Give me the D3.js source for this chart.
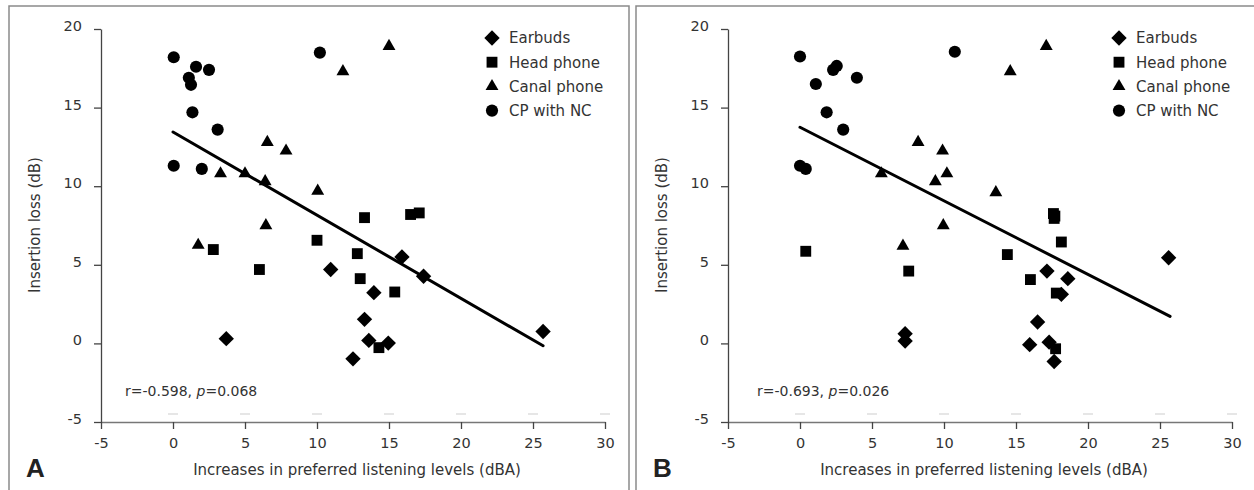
<!DOCTYPE html>
<html>
<head>
<meta charset="utf-8">
<script src="https://cdn.jsdelivr.net/npm/d3@7"></script>
<style>
  body { margin: 0; background: #fff; }
  svg { display: block; font-family: "DejaVu Sans", sans-serif; }
</style>
</head>
<body>
<svg id="chart"></svg>
<script>
// axis ticks and legend
const xTicks = [-5, 0, 5, 10, 15, 20, 25, 30];
const yTicks = [-5, 0, 5, 10, 15, 20];
const seriesNames = ['Earbuds', 'Head phone', 'Canal phone', 'CP with NC'];

// panel A: [increase in PLL (dBA), insertion loss (dB)]
const earbudsA = [[3.7, 0.3], [10.95, 4.7], [15.9, 5.5], [17.4, 4.27], [13.95, 3.23],
  [13.3, 1.53], [13.6, 0.19], [14.95, 0.02], [12.5, -0.98], [25.7, 0.76]];
const headphoneA = [[13.3, 8.0], [16.5, 8.2], [17.1, 8.3], [10.0, 6.56], [2.8, 5.97],
  [6.0, 4.7], [12.8, 5.71], [13.0, 4.12], [15.4, 3.27], [14.3, -0.27]];
const canalA = [[15.0, 18.9], [11.8, 17.3], [10.05, 9.7], [6.55, 12.8], [7.85, 12.25],
  [3.3, 10.8], [5.0, 10.8], [6.4, 10.3], [6.45, 7.5], [1.75, 6.25]];
const cpncA = [[0.05, 18.2], [1.1, 16.9], [1.25, 16.45], [1.6, 17.6], [2.5, 17.4],
  [1.35, 14.7], [3.1, 13.6], [0.05, 11.3], [2.0, 11.1], [10.2, 18.5]];
const fitA = [[0, 13.45], [25.7, -0.15]];
const statA = ['r=-0.598, ', 'p', '=0.068'];

// panel B
const earbudsB = [[7.3, 0.62], [7.3, 0.15], [25.6, 5.45], [17.15, 4.6], [18.6, 4.12],
  [18.15, 3.12], [16.5, 1.36], [15.95, -0.08], [17.3, 0.08], [17.65, -1.15]];
const headphoneB = [[0.4, 5.86], [7.55, 4.6], [17.6, 8.26], [17.65, 7.95], [17.7, 8.1],
  [18.15, 6.45], [14.4, 5.65], [16.0, 4.06], [17.8, 3.2], [17.75, -0.34]];
const canalB = [[17.1, 18.9], [14.6, 17.3], [9.9, 12.25], [10.2, 10.8], [9.4, 10.3],
  [13.6, 9.6], [9.95, 7.5], [8.2, 12.8], [5.65, 10.8], [7.15, 6.2]];
const cpncB = [[0.0, 18.25], [1.1, 16.5], [2.3, 17.4], [2.55, 17.65], [3.95, 16.9],
  [1.85, 14.7], [3.0, 13.6], [0.0, 11.3], [0.4, 11.1], [10.75, 18.55]];
const fitB = [[0, 13.75], [25.7, 1.72]];
const statB = ['r=-0.693, ', 'p', '=0.026'];

class ScatterPanel {
  constructor(_config, _series, _fit, _stat) {
    this.config = {
      parentElement: _config.parentElement,
      left: _config.left,
      top: _config.top || 6,
      containerWidth: _config.containerWidth || 620,
      containerHeight: _config.containerHeight || 490,
      letter: _config.letter,
      margin: { top: 23, bottom: 68, right: 24, left: 92 }
    }
    this.series = _series;
    this.fit = _fit;
    this.stat = _stat;
    this.initVis();
  }

  initVis() {
    let vis = this;
    vis.width = 504;
    vis.height = 393;

    vis.g = d3.select(vis.config.parentElement).append('g')
        .attr('transform', `translate(${vis.config.left},${vis.config.top})`);

    // frame (open at the bottom, cropped)
    vis.g.append('path')
        .attr('d', `M0,${vis.config.containerHeight} V0 H${vis.config.containerWidth} V${vis.config.containerHeight}`)
        .attr('fill', 'none')
        .attr('stroke', '#8a8a8a')
        .attr('stroke-width', 1.5);

    vis.chart = vis.g.append('g')
        .attr('transform', `translate(${vis.config.margin.left},${vis.config.margin.top})`);

    vis.xScale = d3.scaleLinear().domain([-5, 30]).range([0, vis.width]);
    vis.yScale = d3.scaleLinear().domain([-5, 20]).range([vis.height, 0]);

    // Y axis label
    vis.g.append('text')
       .attr('transform', `translate(31,${225 - vis.config.top}) rotate(-90)`)
       .attr('text-anchor', 'middle')
       .attr('font-size', '15px')
       .attr('fill', '#333')
       .text('Insertion loss (dB)');

    // X axis label
    vis.g.append('text')
       .attr('x', vis.config.margin.left + vis.width / 2 + 4)
       .attr('y', 475 - vis.config.top)
       .attr('text-anchor', 'middle')
       .attr('font-size', '15px')
       .attr('fill', '#333')
       .text('Increases in preferred listening levels (dBA)');

    // panel letter
    vis.g.append('text')
       .attr('x', 17)
       .attr('y', 477 - vis.config.top)
       .attr('font-family', 'Liberation Sans, Arial, sans-serif')
       .attr('font-weight', 'bold')
       .attr('font-size', '26px')
       .attr('fill', '#222')
       .text(vis.config.letter);

    vis.updateVis();
  }

  updateVis() {
    let vis = this;

    vis.xAxis = d3.axisBottom(vis.xScale)
        .tickValues(xTicks)
        .tickFormat(d => String(d))
        .tickSize(7)
        .tickSizeOuter(0)
        .tickPadding(4);

    vis.yAxis = d3.axisLeft(vis.yScale)
        .tickValues(yTicks)
        .tickFormat(d => String(d))
        .tickSize(7)
        .tickSizeOuter(0)
        .tickPadding(12);

    // faint remnants above the x axis
    vis.chart.selectAll('.ghost')
      .data(xTicks.filter(d => d > -5))
      .join('rect')
      .attr('class', 'ghost')
      .attr('x', d => vis.xScale(d) - 5)
      .attr('y', vis.height - 9)
      .attr('width', 10)
      .attr('height', 2)
      .attr('fill', '#e6e6e6');

    vis.xAxisG = vis.chart.append('g')
        .attr('class', 'axis x-axis')
        .attr('transform', `translate(0,${vis.height})`)
        .call(vis.xAxis);

    vis.yAxisG = vis.chart.append('g')
        .attr('class', 'axis y-axis')
        .call(vis.yAxis);

    vis.chart.selectAll('.axis path, .axis line')
        .attr('stroke', '#444')
        .attr('stroke-width', 1.3);
    vis.xAxisG.select('path').attr('stroke', '#777');
    vis.chart.selectAll('.axis text')
        .attr('font-family', '"DejaVu Sans", sans-serif')
        .attr('font-size', '14.5px')
        .attr('fill', '#333');
    vis.xAxisG.selectAll('text').attr('dy', '1em');
    vis.yAxisG.selectAll('text').attr('dy', '0.1em');

    vis.renderVis();
  }

  renderVis() {
    let vis = this;
    const symbols = [
      { type: d3.symbolSquare, size: 118, rotate: 45 },   // Earbuds (diamond)
      { type: d3.symbolSquare, size: 118, rotate: 0 },    // Head phone
      { type: d3.symbolTriangle, size: 72, rotate: 0 },   // Canal phone
      { type: d3.symbolCircle, size: 116, rotate: 0 }     // CP with NC
    ];

    // regression line
    vis.chart.append('line')
        .attr('x1', vis.xScale(vis.fit[0][0]))
        .attr('y1', vis.yScale(vis.fit[0][1]))
        .attr('x2', vis.xScale(vis.fit[1][0]))
        .attr('y2', vis.yScale(vis.fit[1][1]))
        .attr('stroke', '#000')
        .attr('stroke-width', 3)
        .attr('stroke-linecap', 'round');

    vis.series.forEach((pts, i) => {
      const s = symbols[i];
      vis.chart.selectAll('.pt' + i)
        .data(pts)
        .join('path')
        .attr('class', 'pt' + i)
        .attr('d', d3.symbol().type(s.type).size(s.size))
        .attr('transform', d => `translate(${vis.xScale(d[0])},${vis.yScale(d[1])}) rotate(${s.rotate})`)
        .attr('fill', '#000');
    });

    // legend
    const legend = vis.chart.append('g')
        .attr('transform', `translate(${vis.width - 113},${9})`);
    seriesNames.forEach((name, i) => {
      const s = symbols[i];
      legend.append('path')
        .attr('d', d3.symbol().type(s.type).size(s.size))
        .attr('transform', `translate(0,${i * 24.2}) rotate(${s.rotate})`)
        .attr('fill', '#000');
      legend.append('text')
        .attr('x', 17)
        .attr('y', i * 24.2)
        .attr('dy', '0.36em')
        .attr('font-size', '15px')
        .attr('fill', '#333')
        .text(name);
    });

    // correlation note
    const note = vis.chart.append('text')
        .attr('x', vis.config.letter === 'A' ? 24 : 29)
        .attr('y', vis.yScale(-3.35))
        .attr('font-size', '14px')
        .attr('fill', '#333');
    note.append('tspan').text(vis.stat[0]);
    note.append('tspan').attr('font-style', 'italic').text(vis.stat[1]);
    note.append('tspan').text(vis.stat[2]);
  }
}

d3.select('#chart').attr('width', 1254).attr('height', 490);

new ScatterPanel({ parentElement: '#chart', left: 9, containerWidth: 620, letter: 'A' },
  [earbudsA, headphoneA, canalA, cpncA], fitA, statA);
new ScatterPanel({ parentElement: '#chart', left: 636, containerWidth: 640, letter: 'B' },
  [earbudsB, headphoneB, canalB, cpncB], fitB, statB);
</script>
</body>
</html>
